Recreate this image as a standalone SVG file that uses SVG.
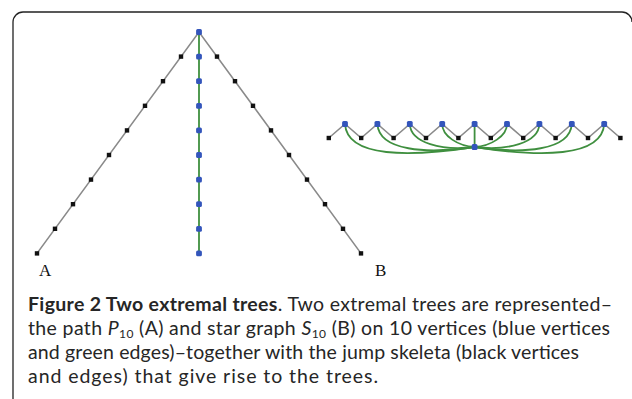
<svg xmlns="http://www.w3.org/2000/svg" width="632" height="399" viewBox="0 0 632 399">
<style>
.sk{stroke:#8a8a8a;stroke-width:1.6;fill:none}
.gr{stroke:#3f8f3f;stroke-width:1.8;fill:none}
.bk{fill:#111}
.bl{fill:#3355bb}
.lab{font-family:"Liberation Serif",serif;font-size:17px;fill:#111}
.cap{font-family:Lato,"Open Sans",sans-serif;font-size:19.5px;fill:#262626}
</style>
<defs>
<rect id="b" x="-2.2" y="-2.2" width="4.4" height="4.4"/>
<rect id="u" x="-2.9" y="-2.9" width="5.8" height="5.8" rx="1.5"/>
</defs>
<rect width="632" height="399" fill="#fff"/>
<path d="M13,399 V22 A10,10 0 0 1 23,12 H622 A10,10 0 0 1 632,22" fill="none" stroke="#222" stroke-width="1.3"/>

<g id="connectors">
<path class="sk" d="M37,253.4 L199,32 L361,253.4"/>
<path class="gr" d="M199,32 V253.4"/>
<path class="sk" d="M328.8,138 L345,124 L361.2,138 L377.4,124 L393.6,138 L409.8,124 L426,138 L442.2,124 L458.4,138 L474.6,124 L490.8,138 L507,124 L523.2,138 L539.4,124 L555.6,138 L571.8,124 L588,138 L604.2,124 L620.4,138"/>
<path class="gr" d="M474.6,124 V147"/>
<path class="gr" d="M345,124 C347,158 410,157 474.6,147"/>
<path class="gr" d="M377.4,124 C379,151 426,154 474.6,147"/>
<path class="gr" d="M409.8,124 C410.5,143 442,151 474.6,147"/>
<path class="gr" d="M442.2,124 C442.2,136 458,146 474.6,147"/>
<path class="gr" d="M604.2,124 C602,158 539,157 474.6,147"/>
<path class="gr" d="M571.8,124 C570,151 523,154 474.6,147"/>
<path class="gr" d="M539.4,124 C538.7,143 507,151 474.6,147"/>
<path class="gr" d="M507,124 C507,136 491,146 474.6,147"/>
</g>

<g id="treeA">
<use href="#b" class="bk" x="181" y="56.6"/>
<use href="#b" class="bk" x="163" y="81.2"/>
<use href="#b" class="bk" x="145" y="105.8"/>
<use href="#b" class="bk" x="127" y="130.4"/>
<use href="#b" class="bk" x="109" y="155"/>
<use href="#b" class="bk" x="91" y="179.6"/>
<use href="#b" class="bk" x="73" y="204.2"/>
<use href="#b" class="bk" x="55" y="228.8"/>
<use href="#b" class="bk" x="37" y="253.4"/>
<use href="#b" class="bk" x="217" y="56.6"/>
<use href="#b" class="bk" x="235" y="81.2"/>
<use href="#b" class="bk" x="253" y="105.8"/>
<use href="#b" class="bk" x="271" y="130.4"/>
<use href="#b" class="bk" x="289" y="155"/>
<use href="#b" class="bk" x="307" y="179.6"/>
<use href="#b" class="bk" x="325" y="204.2"/>
<use href="#b" class="bk" x="343" y="228.8"/>
<use href="#b" class="bk" x="361" y="253.4"/>
<use href="#u" class="bl" x="199" y="32"/>
<use href="#u" class="bl" x="199" y="56.6"/>
<use href="#u" class="bl" x="199" y="81.2"/>
<use href="#u" class="bl" x="199" y="105.8"/>
<use href="#u" class="bl" x="199" y="130.4"/>
<use href="#u" class="bl" x="199" y="155"/>
<use href="#u" class="bl" x="199" y="179.6"/>
<use href="#u" class="bl" x="199" y="204.2"/>
<use href="#u" class="bl" x="199" y="228.8"/>
<use href="#u" class="bl" x="199" y="253.4"/>
<text class="lab" x="39" y="276">A</text>
</g>

<g id="treeB">
<use href="#b" class="bk" x="328.8" y="138"/>
<use href="#b" class="bk" x="361.2" y="138"/>
<use href="#b" class="bk" x="393.6" y="138"/>
<use href="#b" class="bk" x="426" y="138"/>
<use href="#b" class="bk" x="458.4" y="138"/>
<use href="#b" class="bk" x="490.8" y="138"/>
<use href="#b" class="bk" x="523.2" y="138"/>
<use href="#b" class="bk" x="555.6" y="138"/>
<use href="#b" class="bk" x="588" y="138"/>
<use href="#b" class="bk" x="620.4" y="138"/>
<use href="#u" class="bl" x="345" y="124"/>
<use href="#u" class="bl" x="377.4" y="124"/>
<use href="#u" class="bl" x="409.8" y="124"/>
<use href="#u" class="bl" x="442.2" y="124"/>
<use href="#u" class="bl" x="474.6" y="124"/>
<use href="#u" class="bl" x="507" y="124"/>
<use href="#u" class="bl" x="539.4" y="124"/>
<use href="#u" class="bl" x="571.8" y="124"/>
<use href="#u" class="bl" x="604.2" y="124"/>
<use href="#u" class="bl" x="474.6" y="147"/>
<text class="lab" x="375" y="276">B</text>
</g>

<g id="caption" class="cap">
<text x="28" y="311" textLength="584" lengthAdjust="spacing"><tspan font-weight="bold">Figure 2 Two extremal trees</tspan>. Two extremal trees are represented–</text>
<text x="28" y="335" textLength="582" lengthAdjust="spacing">the path <tspan font-style="italic">P</tspan><tspan font-size="12" dy="3">10</tspan><tspan dy="-3"> (A) and star graph </tspan><tspan font-style="italic">S</tspan><tspan font-size="12" dy="3">10</tspan><tspan dy="-3"> (B) on 10 vertices (blue vertices</tspan></text>
<text x="28" y="359" textLength="551" lengthAdjust="spacing">and green edges)–together with the jump skeleta (black vertices</text>
<text x="28" y="383" textLength="350" lengthAdjust="spacing">and edges) that give rise to the trees.</text>
</g>
</svg>
